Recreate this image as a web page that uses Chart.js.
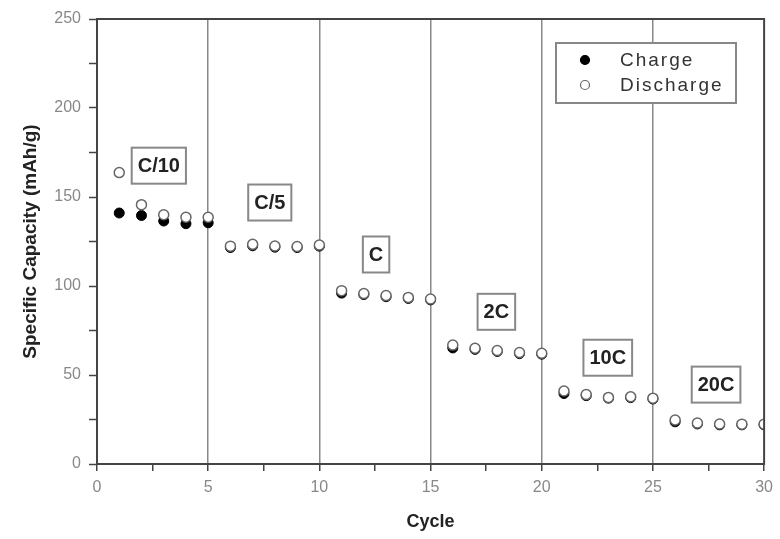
<!DOCTYPE html>
<html>
<head>
<meta charset="utf-8">
<script src="https://cdn.jsdelivr.net/npm/chart.js@4"></script>
<style>
  html, body { margin: 0; padding: 0; background: #fff; }
  #wrap { width: 780px; height: 539px; }
</style>
</head>
<body>
<div id="wrap"><canvas id="myChart" width="780" height="539"></canvas></div>
<script>
// cycle numbers
const cycles = [1, 2, 3, 4, 5, 6, 7, 8, 9, 10, 11, 12, 13, 14, 15, 16, 17, 18, 19, 20, 21, 22, 23, 24, 25, 26, 27, 28, 29, 30];

// specific capacity (mAh/g)
const chargeValues = [141, 139.6, 136.5, 135, 135.5, 121.6, 122.6, 121.8, 121.6, 122.4, 96, 95.2, 94, 93, 92.2, 65.2, 64.4, 63.2, 62, 61.7, 39.6, 38.4, 37, 37.3, 36.5, 23.7, 22.5, 22, 22, 22];
const dischargeValues = [163.7, 145.7, 140, 138.6, 138.6, 122.4, 123.4, 122.5, 122.2, 123, 97.4, 95.8, 94.6, 93.6, 92.7, 66.8, 65, 63.7, 62.6, 62.2, 41, 39, 37.4, 37.8, 37, 24.7, 23, 22.5, 22.4, 22.4];

// rate labels and where they sit (cycle, capacity)
const rateLabels = ['C/10', 'C/5', 'C', '2C', '10C', '20C'];
const rateX = [2.78, 7.77, 12.55, 17.96, 22.97, 27.84];
const rateY = [167.6, 146.9, 117.7, 85.5, 59.7, 44.6];

const xTicks = [0, 5, 10, 15, 20, 25, 30];
const yTicks = [0, 50, 100, 150, 200, 250];

const toPoints = (vals) => cycles.map((c, i) => ({ x: c, y: vals[i] }));

// frame around plot + the boxed rate labels + legend
const decorations = {
    id: 'decorations',
    afterDatasetsDraw(chart) {
        const ctx = chart.ctx;
        const area = chart.chartArea;
        const xs = chart.scales.x;
        const ys = chart.scales.y;

        ctx.save();
        // frame
        ctx.strokeStyle = '#444';
        ctx.lineWidth = 2;
        ctx.strokeRect(area.left, area.top, area.right - area.left, area.bottom - area.top);

        // rate labels
        ctx.font = 'bold 20px "Liberation Sans", Arial, sans-serif';
        ctx.textAlign = 'center';
        ctx.textBaseline = 'middle';
        rateLabels.forEach((txt, i) => {
            const cx = xs.getPixelForValue(rateX[i]);
            const cy = ys.getPixelForValue(rateY[i]);
            const w = ctx.measureText(txt).width + 12;
            const h = 36;
            ctx.fillStyle = '#fff';
            ctx.fillRect(cx - w / 2, cy - h / 2, w, h);
            ctx.strokeStyle = '#888';
            ctx.lineWidth = 2;
            ctx.strokeRect(cx - w / 2, cy - h / 2, w, h);
            ctx.fillStyle = '#222';
            ctx.fillText(txt, cx, cy + 1);
        });

        // legend
        const lx = 556, ly = 43, lw = 180, lh = 60;
        ctx.fillStyle = '#fff';
        ctx.fillRect(lx, ly, lw, lh);
        ctx.strokeStyle = '#888';
        ctx.lineWidth = 2;
        ctx.strokeRect(lx, ly, lw, lh);
        ctx.font = '19px "Liberation Sans", Arial, sans-serif';
        ctx.letterSpacing = '2px';
        ctx.textAlign = 'left';
        chart.data.datasets.forEach((ds, i) => {
            const my = ly + 17 + i * 25;
            ctx.beginPath();
            ctx.arc(lx + 29, my, 4.5, 0, Math.PI * 2);
            ctx.fillStyle = ds.backgroundColor;
            ctx.fill();
            ctx.strokeStyle = ds.borderColor;
            ctx.lineWidth = 1.2;
            ctx.stroke();
            ctx.fillStyle = '#333';
            ctx.fillText(ds.label, lx + 64, my + 1);
        });
        ctx.restore();
    }
};

const drawChart = () => {
    const data = {
        datasets: [{
            label: 'Charge',
            data: toPoints(chargeValues),
            backgroundColor: '#000',
            borderColor: '#000',
            pointRadius: 5,
            pointBorderWidth: 1,
            order: 2
        }, {
            label: 'Discharge',
            data: toPoints(dischargeValues),
            backgroundColor: '#fff',
            borderColor: '#666',
            pointRadius: 5,
            pointBorderWidth: 1.5,
            order: 1
        }]
    };

    const tickFont = { family: '"Liberation Sans", Arial, sans-serif', size: 16 };
    const fontFamily = '"Liberation Sans", Arial, sans-serif';

    const config = {
        type: 'scatter',
        data: data,
        plugins: [decorations],
        options: {
            responsive: false,
            animation: false,
            layout: { padding: { left: 0, top: 19, right: 15, bottom: 0 } },
            plugins: {
                legend: { display: false },
                tooltip: { enabled: false }
            },
            scales: {
                x: {
                    type: 'linear',
                    min: 0,
                    max: 30,
                    afterFit: (scale) => { scale.height = 75; },
                    afterBuildTicks: (scale) => {
                        const t = [];
                        for (let v = 0; v <= 30; v += 2.5) t.push({ value: v });
                        scale.ticks = t;
                    },
                    border: { display: false },
                    grid: {
                        drawOnChartArea: true,
                        tickLength: 7,
                        color: (c) => (c.tick && xTicks.includes(c.tick.value) && c.tick.value > 0 && c.tick.value < 30) ? '#888' : 'rgba(0,0,0,0)',
                        tickColor: '#444',
                        lineWidth: 1.5,
                        tickWidth: 1.5
                    },
                    ticks: {
                        color: '#888',
                        font: tickFont,
                        padding: 7,
                        maxRotation: 0,
                        autoSkip: false,
                        callback: (v) => xTicks.includes(v) ? String(v) : ''
                    },
                    title: {
                        display: true,
                        text: 'Cycle',
                        color: '#222',
                        font: { family: fontFamily, size: 18, weight: 'bold' },
                        padding: { top: 0, bottom: 6 }
                    }
                },
                y: {
                    type: 'linear',
                    min: 0,
                    max: 250,
                    afterFit: (scale) => { scale.width = 97; },
                    afterBuildTicks: (scale) => {
                        const t = [];
                        for (let v = 0; v <= 250; v += 25) t.push({ value: v });
                        scale.ticks = t;
                    },
                    border: { display: false },
                    grid: {
                        drawOnChartArea: false,
                        tickLength: 8,
                        tickColor: '#444',
                        tickWidth: 1.5
                    },
                    ticks: {
                        color: '#888',
                        font: tickFont,
                        padding: 8,
                        autoSkip: false,
                        callback: (v) => yTicks.includes(v) ? String(v) : ''
                    },
                    title: {
                        display: true,
                        text: 'Specific Capacity (mAh/g)',
                        color: '#222',
                        font: { family: fontFamily, size: 19, weight: 'bold' },
                        padding: { top: 19, bottom: 0 }
                    }
                }
            }
        }
    };

    new Chart(document.getElementById('myChart'), config);
};

drawChart();
</script>
</body>
</html>
